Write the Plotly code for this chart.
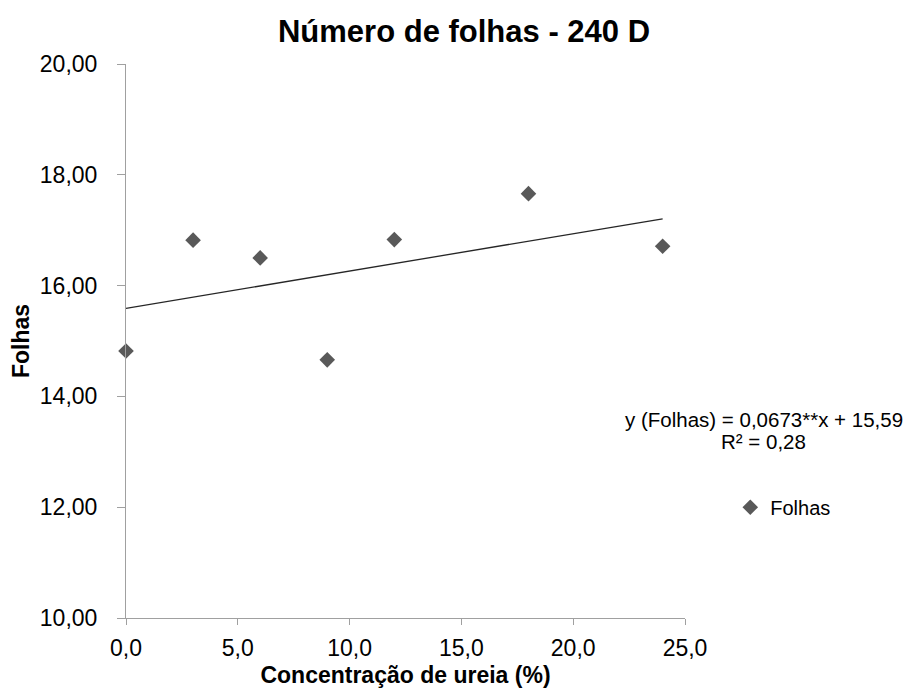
import plotly.graph_objects as go

# Data
concentracao = [0, 3, 6, 9, 12, 18, 24]
folhas = [14.82, 16.82, 16.50, 14.66, 16.83, 17.66, 16.71]
slope = 0.0673
intercept = 15.59
trend_x = [0, 24]
trend_y = [intercept + slope * x for x in trend_x]

x_ticks = [0, 5, 10, 15, 20, 25]
y_ticks = [10, 12, 14, 16, 18, 20]

FONT = "Liberation Sans, Arial, sans-serif"

fig = go.Figure()
fig.add_trace(go.Scatter(
    x=trend_x, y=trend_y, mode="lines",
    line=dict(color="#262626", width=1.3),
    showlegend=False, hoverinfo="skip",
))
fig.add_trace(go.Scatter(
    x=concentracao, y=folhas, mode="markers", name="Folhas",
    marker=dict(symbol="diamond", size=12, color="#595959"),
    cliponaxis=False,
))

fig.update_layout(
    width=912, height=691,
    margin=dict(l=110, r=235, t=56, b=81),
    paper_bgcolor="white", plot_bgcolor="white",
    separators=",.",
    font=dict(family=FONT, color="#000000", size=23),
    title=dict(text="<b>Número de folhas - 240 D</b>",
               font=dict(family=FONT, size=31, color="#000000"),
               x=0.5, xanchor="center", y=0.967, yanchor="middle"),
    legend=dict(x=1.0810, xanchor="left", y=0.2, yanchor="middle",
                font=dict(family=FONT, size=20, color="#000000"),
                bgcolor="rgba(0,0,0,0)"),
    showlegend=True,
)

fig.update_xaxes(
    range=[0, 25], tickvals=x_ticks, tickformat=".1f",
    showgrid=False, zeroline=False, showline=True, linecolor="#a0a0a0", linewidth=1,
    ticks="outside", ticklen=6, tickcolor="#a0a0a0",
    tickfont=dict(family=FONT, size=23),
    ticklabelstandoff=3,
    title=dict(text="<b>Concentração de ureia (%)</b>", font=dict(family=FONT, size=23), standoff=7),
)
fig.update_yaxes(
    range=[10, 20], tickvals=y_ticks, tickformat=".2f",
    showgrid=False, zeroline=False, showline=True, linecolor="#a0a0a0", linewidth=1,
    ticks="outside", ticklen=8, tickcolor="#a0a0a0",
    tickfont=dict(family=FONT, size=23),
    ticklabelstandoff=15,
    title=dict(text="<b>Folhas</b>", font=dict(family=FONT, size=23), standoff=4),
)

fig.add_annotation(x=1.141, y=0.359, xref="paper", yref="paper",
                   text="y (Folhas) = 0,0673**x + 15,59", showarrow=False,
                   xanchor="center", yanchor="middle",
                   font=dict(family=FONT, size=20.5, color="#000000"))
fig.add_annotation(x=1.141, y=0.3186, xref="paper", yref="paper",
                   text="R² = 0,28", showarrow=False,
                   xanchor="center", yanchor="middle",
                   font=dict(family=FONT, size=20.5, color="#000000"))

fig.write_html("out.html")
